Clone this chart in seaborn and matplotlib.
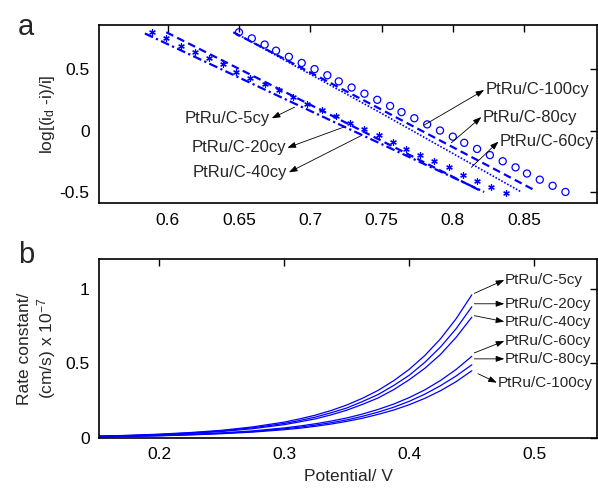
import numpy as np
import pandas as pd
import matplotlib
matplotlib.use("Agg")
import matplotlib.pyplot as plt
import seaborn as sns

# ---- panel a: Tafel-type plot ----
# open circles (PtRu/C-100cy)
circ_x = [0.650, 0.659, 0.668, 0.676, 0.685, 0.694, 0.703, 0.712, 0.720, 0.729,
          0.738, 0.747, 0.756, 0.764, 0.773, 0.782, 0.791, 0.800, 0.808, 0.817,
          0.826, 0.835, 0.844, 0.852, 0.861, 0.870, 0.879]
circ_y = [0.80, 0.75, 0.70, 0.65, 0.60, 0.55, 0.50, 0.45, 0.40, 0.35,
          0.30, 0.25, 0.20, 0.15, 0.10, 0.05, 0.00, -0.05, -0.10, -0.15,
          -0.20, -0.25, -0.30, -0.35, -0.40, -0.45, -0.50]
# asterisks (PtRu/C-20cy)
star_x = [0.589, 0.599, 0.609, 0.619, 0.629, 0.639, 0.648, 0.658, 0.668, 0.678,
          0.688, 0.698, 0.708, 0.718, 0.728, 0.738, 0.748, 0.758, 0.767, 0.777,
          0.787, 0.797, 0.807, 0.817, 0.827, 0.837]
star_y = [0.80, 0.75, 0.69, 0.64, 0.59, 0.54, 0.48, 0.43, 0.38, 0.33,
          0.27, 0.22, 0.17, 0.12, 0.06, 0.01, -0.04, -0.09, -0.15, -0.20,
          -0.25, -0.30, -0.36, -0.41, -0.46, -0.51]
# fitted lines
d5_x = [0.599, 0.70, 0.821]
d5_y = [0.80, 0.21, -0.50]
dd40_x = [0.584, 0.70, 0.822]
dd40_y = [0.79, 0.16, -0.50]
d80_x = [0.646, 0.75, 0.858]
d80_y = [0.80, 0.17, -0.49]
dot60_x = [0.648, 0.75, 0.848]
dot60_y = [0.79, 0.14, -0.50]

# ---- panel b: rate constant vs potential ----
potential = [0.15, 0.175, 0.2, 0.225, 0.25, 0.275, 0.3, 0.3125, 0.325, 0.3375,
             0.35, 0.3625, 0.375, 0.3875, 0.4, 0.4125, 0.425, 0.4375, 0.45]
k_5cy = [0.011, 0.016, 0.024, 0.035, 0.050, 0.073, 0.105, 0.127, 0.152, 0.183,
         0.220, 0.265, 0.318, 0.383, 0.460, 0.553, 0.665, 0.800, 0.960]
k_20cy = [0.010, 0.015, 0.022, 0.032, 0.046, 0.067, 0.096, 0.116, 0.139, 0.168,
          0.200, 0.243, 0.290, 0.351, 0.420, 0.507, 0.610, 0.733, 0.880]
k_40cy = [0.009, 0.013, 0.020, 0.029, 0.042, 0.061, 0.088, 0.107, 0.127, 0.154,
          0.185, 0.224, 0.267, 0.323, 0.390, 0.467, 0.560, 0.675, 0.810]
k_60cy = [0.008, 0.011, 0.016, 0.023, 0.033, 0.046, 0.066, 0.079, 0.094, 0.112,
          0.133, 0.159, 0.190, 0.226, 0.270, 0.322, 0.385, 0.459, 0.547]
k_80cy = [0.007, 0.010, 0.014, 0.021, 0.030, 0.042, 0.060, 0.071, 0.085, 0.101,
          0.120, 0.144, 0.172, 0.205, 0.245, 0.293, 0.350, 0.415, 0.490]
k_100cy = [0.006, 0.009, 0.013, 0.019, 0.027, 0.038, 0.054, 0.064, 0.077, 0.092,
           0.110, 0.131, 0.157, 0.186, 0.222, 0.265, 0.316, 0.377, 0.450]
cycles = ['5cy', '20cy', '40cy', '60cy', '80cy', '100cy']

sns.set_style("white")
plt.rcParams['font.family'] = ['Liberation Sans', 'DejaVu Sans']
plt.rcParams['mathtext.fontset'] = 'custom'
plt.rcParams['mathtext.rm'] = 'Liberation Sans'
plt.rcParams['mathtext.it'] = 'Liberation Sans'

fig = plt.figure(figsize=(5.98, 4.88), dpi=100)
ax1 = fig.add_axes([0.166, 0.584, 0.832, 0.365])
ax2 = fig.add_axes([0.166, 0.103, 0.832, 0.366])

blue = '#0000ff'

# panel a
sns.lineplot(x=d5_x, y=d5_y, ax=ax1, color=blue, lw=1.6,
             linestyle=(0, (3.5, 2)), estimator=None, sort=False)
sns.lineplot(x=dd40_x, y=dd40_y, ax=ax1, color=blue, lw=1.6,
             linestyle=(0, (4, 1.5, 1, 1.5)), estimator=None, sort=False)
sns.lineplot(x=d80_x, y=d80_y, ax=ax1, color=blue, lw=1.6,
             linestyle=(0, (3.5, 2)), estimator=None, sort=False)
sns.lineplot(x=dot60_x, y=dot60_y, ax=ax1, color=blue, lw=1.2,
             linestyle=(0, (1, 1)), estimator=None, sort=False)
sns.scatterplot(x=star_x, y=star_y, ax=ax1, marker=(6, 2, 0), s=16,
                color=blue, linewidth=0.9)
sns.scatterplot(x=circ_x, y=circ_y, ax=ax1, marker='o', s=26,
                facecolor='none', edgecolor=blue, linewidth=0.9)

ax1.set_xlim(0.552, 0.901)
ax1.set_ylim(-0.59, 0.86)
ax1.set_xticks([0.6, 0.65, 0.7, 0.75, 0.8, 0.85])
ax1.set_xticklabels(['0.6', '0.65', '0.7', '0.75', '0.8', '0.85'])
ax1.set_yticks([-0.5, 0, 0.5])
ax1.set_yticklabels(['-0.5', '0', '0.5'])
ax1.set_ylabel(r'log[(i$_{\rm d}$ -i)/i]', fontsize=12.5, labelpad=2)

arr = dict(arrowstyle='-|>,head_length=0.5,head_width=0.18', color='black',
           lw=0.6, shrinkA=0, shrinkB=0)
fs = 12
top_notes = [
    ('PtRu/C-100cy', (0.780, 0.045), (0.822, 0.33), 'left'),
    ('PtRu/C-80cy', (0.799, -0.10), (0.820, 0.11), 'left'),
    ('PtRu/C-60cy', (0.813, -0.30), (0.832, -0.09), 'left'),
    ('PtRu/C-5cy', (0.689, 0.19), (0.673, 0.10), 'right'),
    ('PtRu/C-20cy', (0.724, 0.03), (0.684, -0.14), 'right'),
    ('PtRu/C-40cy', (0.736, -0.04), (0.685, -0.34), 'right'),
]
for label, xy, xytext, ha in top_notes:
    ax1.annotate('', xy=xytext, xytext=xy, arrowprops=arr)
    tx = xytext[0] + (0.001 if ha == 'left' else -0.001)
    ax1.text(tx, xytext[1], label, ha=ha, va='center', fontsize=fs)

# panel b
curves = pd.DataFrame({'Potential': potential * 6,
                       'k': k_5cy + k_20cy + k_40cy + k_60cy + k_80cy + k_100cy,
                       'sample': np.repeat(cycles, len(potential))})
sns.lineplot(data=curves, x='Potential', y='k', units='sample', estimator=None,
             ax=ax2, color=blue, lw=0.9, sort=False)
ax2.set_xlim(0.152, 0.55)
ax2.set_ylim(0, 1.2)
ax2.set_xticks([0.2, 0.3, 0.4, 0.5])
ax2.set_xticklabels(['0.2', '0.3', '0.4', '0.5'])
ax2.set_yticks([0, 0.5, 1])
ax2.set_yticklabels(['0', '0.5', '1'])
ax2.set_xlabel('Potential/ V', fontsize=12.5, labelpad=5)
ax2.set_ylabel('Rate constant/\n(cm/s) x 10$^{-7}$', fontsize=12.5, labelpad=5)

bottom_notes = [
    ('PtRu/C-5cy', (0.452, 0.97), (0.476, 1.06)),
    ('PtRu/C-20cy', (0.452, 0.90), (0.476, 0.90)),
    ('PtRu/C-40cy', (0.452, 0.82), (0.476, 0.78)),
    ('PtRu/C-60cy', (0.452, 0.57), (0.476, 0.65)),
    ('PtRu/C-80cy', (0.452, 0.53), (0.476, 0.53)),
    ('PtRu/C-100cy', (0.455, 0.43), (0.470, 0.37)),
]
for label, xy, xytext in bottom_notes:
    ax2.annotate('', xy=xytext, xytext=xy, arrowprops=arr)
    ax2.text(xytext[0] + 0.0005, xytext[1], label, ha='left', va='center', fontsize=11)

for ax in (ax1, ax2):
    for sp in ax.spines.values():
        sp.set_visible(True)
        sp.set_color('black')
        sp.set_linewidth(1.2)
    ax.tick_params(direction='in', length=5, width=1, top=True, right=True,
                   labelsize=12.5, colors='black', pad=7)
    ax.grid(False)

fig.text(0.03, 0.945, 'a', fontsize=21, ha='left', va='center')
fig.text(0.03, 0.478, 'b', fontsize=21, ha='left', va='center')

fig.savefig('out.png', dpi=100)
